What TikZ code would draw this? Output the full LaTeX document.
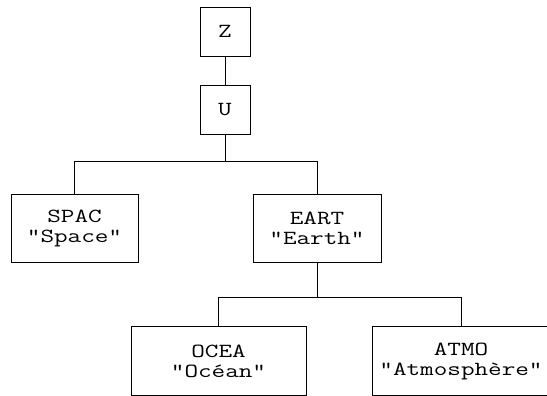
\documentclass[tikz,border=0pt]{standalone}
\usepackage{fontspec}
\setmonofont[FakeStretch=1.32]{Latin Modern Mono}
\begin{document}
\begin{tikzpicture}[x=1pt,y=-1pt,
  box/.style={draw, rectangle, inner sep=0pt, line width=0.9pt, align=center,
    font=\ttfamily\fontsize{20}{20}\selectfont},
  conn/.style={draw, line width=0.9pt}]
\useasboundingbox (0,0) rectangle (547,396);
\clip (0,0) rectangle (547,396);
\node[box, minimum width=50pt, minimum height=49pt] (Z) at (225,31.5) {Z};
\node[box, minimum width=50pt, minimum height=49pt] (U) at (225,109.5) {U};
\node[box, minimum width=127pt, minimum height=68pt] (SPAC) at (74.5,228) {SPAC\\“Space”};
\node[box, minimum width=128pt, minimum height=68pt] (EART) at (317,228) {EART\\“Earth”};
\node[box, minimum width=175pt, minimum height=69pt] (OCEA) at (218.5,361) {OCEA\\“Océan”};
\node[box, minimum width=178pt, minimum height=69pt] (ATMO) at (461,361) {ATMO\\“Atmosphère”};
\draw[conn] (Z) -- (U);
\draw[conn] (U.south) -- ++(0,27) coordinate (b1);
\draw[conn] (b1) -| (SPAC.north);
\draw[conn] (b1) -| (EART.north);
\draw[conn] (EART.south) -- ++(0,35) coordinate (b2);
\draw[conn] (b2) -| (OCEA.north);
\draw[conn] (b2) -| (ATMO.north);
\end{tikzpicture}
\end{document}
